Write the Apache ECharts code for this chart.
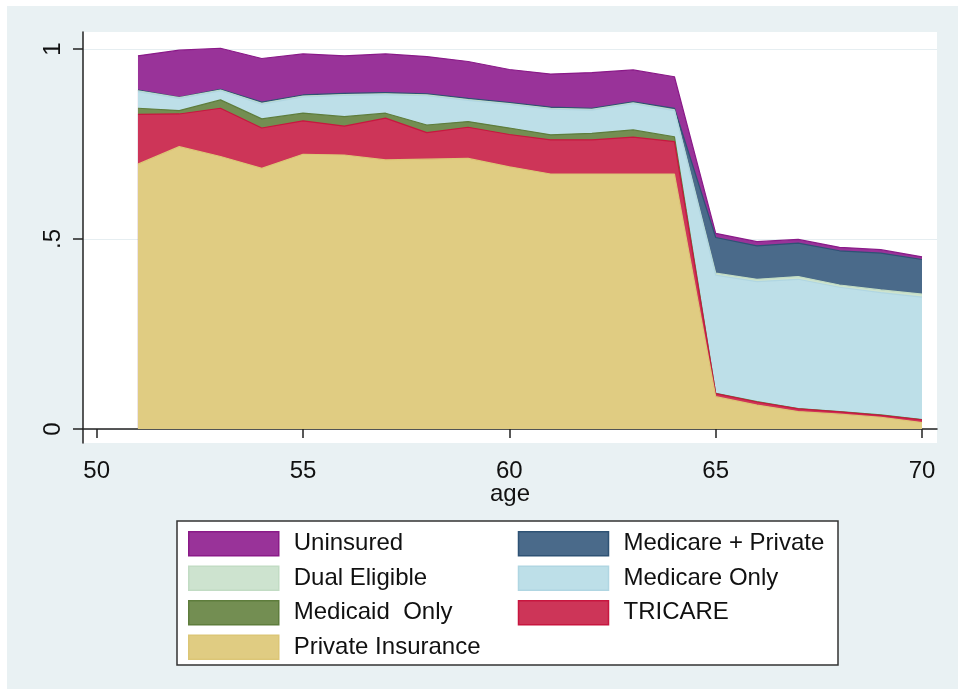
<!DOCTYPE html>
<html>
<head>
<meta charset="utf-8">
<script src="https://cdn.jsdelivr.net/npm/echarts@6/dist/echarts.min.js"></script>
<style>
  html, body { margin: 0; padding: 0; background: #fff; }
  #chart { position: absolute; left: 7px; top: 6px; width: 951px; height: 683px; }
</style>
</head>
<body>
<div id="chart"></div>
<script>
// share of people by insurance type, ages 51-70
const ages = [51, 52, 53, 54, 55, 56, 57, 58, 59, 60, 61, 62, 63, 64, 65, 66, 67, 68, 69, 70];
const privateIns = [0.697, 0.743, 0.717, 0.686, 0.723, 0.721, 0.708, 0.710, 0.712, 0.690, 0.671, 0.671, 0.671, 0.671, 0.085, 0.063, 0.046, 0.039, 0.031, 0.017];
const tricare = [0.131, 0.086, 0.127, 0.106, 0.088, 0.076, 0.110, 0.070, 0.082, 0.085, 0.090, 0.090, 0.097, 0.085, 0.008, 0.008, 0.007, 0.006, 0.005, 0.007];
const medicaidOnly = [0.016, 0.009, 0.022, 0.024, 0.020, 0.025, 0.013, 0.020, 0.015, 0.017, 0.013, 0.017, 0.019, 0.013, 0.001, 0.001, 0.001, 0.001, 0.001, 0.001];
const medicareOnly = [0.044, 0.032, 0.024, 0.039, 0.043, 0.056, 0.049, 0.077, 0.056, 0.062, 0.068, 0.061, 0.069, 0.069, 0.311, 0.316, 0.340, 0.327, 0.322, 0.322];
const dualEligible = [0.002, 0.002, 0.002, 0.002, 0.002, 0.002, 0.002, 0.002, 0.002, 0.002, 0.002, 0.002, 0.002, 0.002, 0.005, 0.006, 0.007, 0.006, 0.007, 0.008];
const medicarePrivate = [0.002, 0.001, 0.002, 0.003, 0.003, 0.003, 0.003, 0.003, 0.003, 0.003, 0.003, 0.003, 0.003, 0.004, 0.094, 0.088, 0.088, 0.090, 0.097, 0.091];
const uninsured = [0.090, 0.124, 0.108, 0.115, 0.108, 0.099, 0.102, 0.098, 0.097, 0.087, 0.087, 0.094, 0.084, 0.083, 0.011, 0.011, 0.010, 0.009, 0.009, 0.007];

const xTicks = [50, 55, 60, 65, 70];
const yTicks = [0, 0.5, 1];

// bottom to top order of the layers
const layers = [
    { name: 'Private Insurance', values: privateIns },
    { name: 'TRICARE', values: tricare },
    { name: 'Medicaid  Only', values: medicaidOnly },
    { name: 'Medicare Only', values: medicareOnly },
    { name: 'Dual Eligible', values: dualEligible },
    { name: 'Medicare + Private', values: medicarePrivate },
    { name: 'Uninsured', values: uninsured }
];
// legend reads row by row, two per row
const legendOrder = ['Uninsured', 'Medicare + Private', 'Dual Eligible', 'Medicare Only',
    'Medicaid  Only', 'TRICARE', 'Private Insurance'];

const fill = {
    'Private Insurance': '#e0cc82',
    'TRICARE': '#cd3558',
    'Medicaid  Only': '#738e52',
    'Medicare Only': '#bddfe8',
    'Dual Eligible': '#cde3cf',
    'Medicare + Private': '#4a6a8a',
    'Uninsured': '#993399'
};
const edge = {
    'Private Insurance': '#dcc676',
    'TRICARE': '#c8163f',
    'Medicaid  Only': '#5e7d3c',
    'Medicare Only': '#b0d6e2',
    'Dual Eligible': '#c2dcc4',
    'Medicare + Private': '#2e5274',
    'Uninsured': '#8a1a88'
};

// running totals, like stata's rarea of cumulative shares
let running = ages.map(() => 0);
const cumulative = layers.map((l) => {
    running = running.map((s, i) => s + l.values[i]);
    return { name: l.name, tops: running.slice() };
});

const font = 'Liberation Sans, Arial, sans-serif';
const axisColor = '#222';

const chart = echarts.init(document.getElementById('chart'));

chart.setOption({
    backgroundColor: '#e9f1f3',
    animation: false,
    grid: {
        left: 76, right: 21, top: 26, bottom: 246,
        show: true, backgroundColor: '#ffffff', borderWidth: 0
    },
    graphic: [{
        type: 'rect',
        shape: { x: 170, y: 515, width: 661, height: 144 },
        style: { fill: '#ffffff', stroke: '#333', lineWidth: 1.5 },
        z: -1
    }],
    legend: {
        orient: 'horizontal',
        left: 181,
        top: 525,
        width: 660,
        padding: 0,
        icon: 'rect',
        itemWidth: 90,
        itemHeight: 24,
        itemGap: 9,
        selectedMode: false,
        textStyle: {
            fontFamily: font, fontSize: 24, color: '#111', lineHeight: 24,
            width: 215, padding: [0, 0, 0, 10]
        },
        data: legendOrder.map((name) => ({
            name: name,
            itemStyle: { color: fill[name], borderColor: edge[name], borderWidth: 1.5 }
        }))
    },
    xAxis: {
        type: 'value',
        min: 49.668,
        max: 70.363,
        name: 'age',
        nameLocation: 'middle',
        nameGap: 39,
        nameMoveOverlap: false,
        nameTextStyle: { fontFamily: font, fontSize: 24, color: '#111' },
        axisLine: { lineStyle: { color: axisColor, width: 1.5 } },
        axisTick: { customValues: xTicks, length: 9, lineStyle: { color: axisColor, width: 1.5 } },
        axisLabel: { customValues: xTicks, margin: 16, fontFamily: font, fontSize: 24, color: '#111' },
        splitLine: { show: false }
    },
    yAxis: {
        type: 'value',
        min: -0.0368,
        max: 1.0447,
        axisLine: { show: true, lineStyle: { color: axisColor, width: 1.5 } },
        axisTick: { show: true, customValues: yTicks, length: 10, lineStyle: { color: axisColor, width: 1.5 } },
        axisLabel: {
            customValues: yTicks,
            rotate: 90,
            margin: 18,
            fontFamily: font,
            fontSize: 24,
            color: '#111',
            formatter: (v) => (v === 0.5 ? '.5' : String(v))
        },
        splitLine: { show: true, lineStyle: { color: '#e6eef1', width: 1 } }
    },
    // tallest band first, lower bands painted over it
    series: cumulative.slice().reverse().map((c, k) => ({
        name: c.name,
        type: 'line',
        symbol: 'none',
        z: 2 + k * 0.01,
        color: fill[c.name],
        lineStyle: { color: edge[c.name], width: 1.2 },
        areaStyle: { color: fill[c.name], opacity: 1, origin: 0 },
        data: ages.map((a, i) => [a, +c.tops[i].toFixed(4)])
    }))
});
</script>
</body>
</html>
